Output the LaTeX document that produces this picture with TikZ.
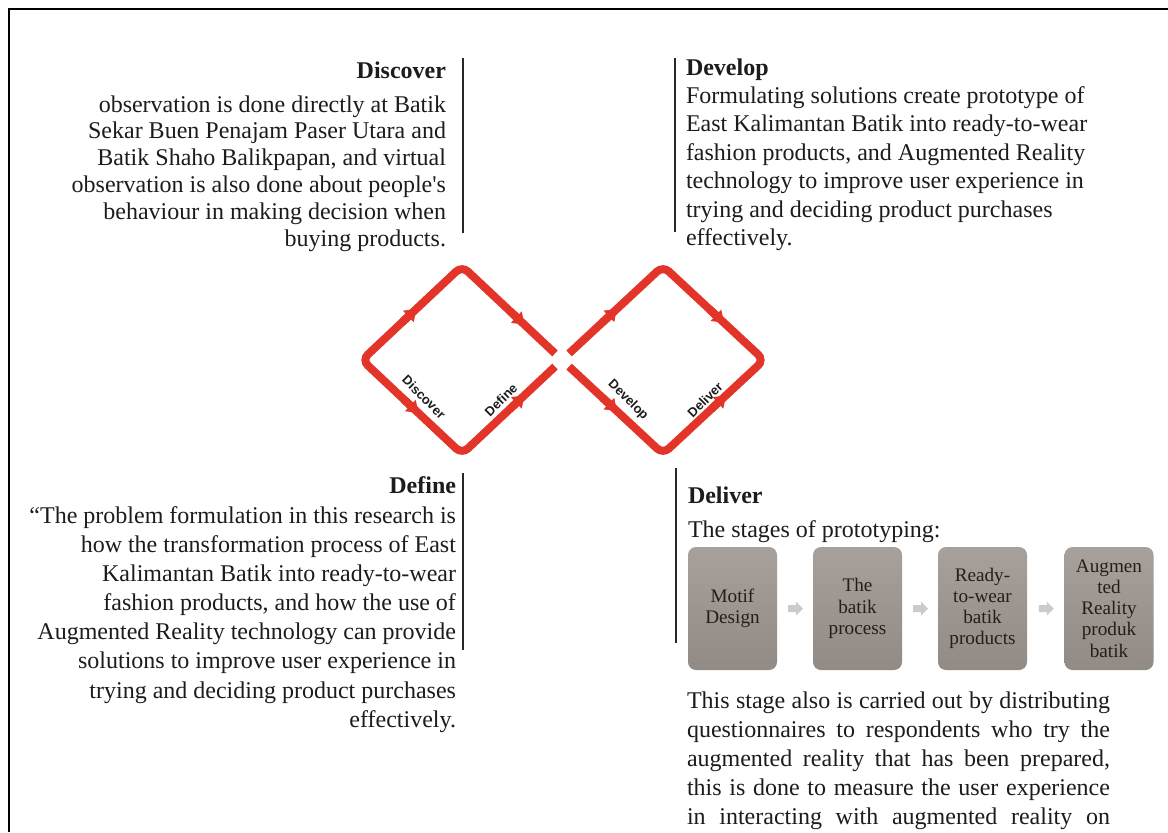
\documentclass[tikz,border=0pt]{standalone}
\usepackage{fontspec}
\setmainfont{Liberation Serif}
\newfontfamily\diamondfont{Liberation Sans}
\usetikzlibrary{arrows.meta,calc}
\definecolor{ddred}{RGB}{226,52,40}
\definecolor{ink}{RGB}{28,28,28}
\definecolor{boxtop}{RGB}{168,160,154}
\definecolor{boxbot}{RGB}{146,138,132}
\definecolor{chevgray}{RGB}{206,202,199}
\definecolor{boxink}{RGB}{36,30,26}
\definecolor{barcol}{RGB}{40,40,40}

\begin{document}
\begin{tikzpicture}[x=0.5pt,y=-0.5pt,
  every node/.style={inner sep=0pt,outer sep=0pt,text=ink},
  heading/.style={font=\fontsize{12}{14}\selectfont\bfseries},
  body/.style={font=\fontsize{12}{#1}\selectfont},
  sidebar/.style={draw=barcol,line width=1pt},
  loop/.style={draw=ddred,line width=4pt,rounded corners=4pt,line cap=butt},
  flowtip/.style={draw=ddred,line width=4pt,-{Triangle[width=7.5pt,length=5.5pt]},shorten >=-3pt},
  phase/.style={font=\diamondfont\bfseries\fontsize{6.5}{7}\selectfont,text=ink},
  stagebox/.style={rounded corners=4pt,minimum width=44.5pt,minimum height=61.5pt,
    top color=boxtop,bottom color=boxbot,align=center,text=boxink,
    font=\fontsize{9.6}{10.6}\selectfont},
  chev/.style={fill=chevgray}
]
\useasboundingbox (0,0) rectangle (1168,832);
\fill[white] (0,0) rectangle (1168,832);

% outer frame (continues past the right and bottom edges)
\draw[black,line width=1.3pt] (9,832) -- (9,9) -- (1168,9);

% ---------------- double diamond ----------------
\coordinate (aL) at (362,360);
\coordinate (aT) at (462,266);
\coordinate (aR) at (562,360);
\coordinate (aB) at (462,454);
\coordinate (bL) at (562,360);
\coordinate (bT) at (663,266);
\coordinate (bR) at (764,360);
\coordinate (bB) at (663,454);

\draw[loop] ($(aT)!0.93!(aR)$) -- (aT) -- (aL) -- (aB) -- ($(aB)!0.93!(aR)$);
\draw[loop] ($(bL)!0.07!(bT)$) -- (bT) -- (bR) -- (bB) -- ($(bL)!0.07!(bB)$);

% direction tips on every edge
\draw[flowtip] ($(aL)!0.40!(aT)$) -- ($(aL)!0.50!(aT)$);
\draw[flowtip] ($(aT)!0.48!(aR)$) -- ($(aT)!0.58!(aR)$);
\draw[flowtip] ($(aL)!0.42!(aB)$) -- ($(aL)!0.52!(aB)$);
\draw[flowtip] ($(aB)!0.48!(aR)$) -- ($(aB)!0.58!(aR)$);
\draw[flowtip] ($(bL)!0.40!(bT)$) -- ($(bL)!0.50!(bT)$);
\draw[flowtip] ($(bT)!0.46!(bR)$) -- ($(bT)!0.56!(bR)$);
\draw[flowtip] ($(bL)!0.40!(bB)$) -- ($(bL)!0.50!(bB)$);
\draw[flowtip] ($(bB)!0.48!(bR)$) -- ($(bB)!0.58!(bR)$);

\node[phase,rotate=-45] (pDiscover) at (424,397) {Discover};
\node[phase,rotate=45]  (pDefine)   at (501,400) {Define};
\node[phase,rotate=-45] (pDevelop)  at (628,400) {Develop};
\node[phase,rotate=45]  (pDeliver)  at (705,400) {Deliver};

% ---------------- Discover ----------------
\draw[sidebar] (463,58) -- (463,233);
\node[heading,anchor=base east] (discH) at (446,78) {Discover};
\node[body=13.4,align=right,anchor=north east] (discT) at (446,95.5)
 {observation is done directly at Batik\\
  Sekar Buen Penajam Paser Utara and\\
  Batik Shaho Balikpapan, and virtual\\
  observation is also done about people\textquotesingle s\\
  behaviour in making decision when\\
  buying products.};

% ---------------- Develop ----------------
\draw[sidebar] (675,58) -- (675,232);
\node[heading,anchor=base west] (devH) at (686,75) {Develop};
\node[body=14.2,align=left,anchor=north west] (devT) at (686,86.5)
 {Formulating solutions create prototype of\\
  East Kalimantan Batik into ready-to-wear\\
  fashion products, and Augmented Reality\\
  technology to improve user experience in\\
  trying and deciding product purchases\\
  effectively.};

% ---------------- Define ----------------
\draw[sidebar] (463,473) -- (463,650);
\node[heading,anchor=base east] (defH) at (456,493) {Define};
\node[body=14.55,align=right,anchor=north east] (defT) at (456,506.5)
 {“The problem formulation in this research is\\
  how the transformation process of East\\
  Kalimantan Batik into ready-to-wear\\
  fashion products, and how the use of\\
  Augmented Reality technology can provide\\
  solutions to improve user experience in\\
  trying and deciding product purchases\\
  effectively.};

% ---------------- Deliver ----------------
\draw[sidebar] (676,468) -- (676,643);
\node[heading,anchor=base west] (delH) at (688,503) {Deliver};
\node[body=14,anchor=base west] (delS) at (688,537) {The stages of prototyping:};

\node[stagebox] (s1) at (732.5,608.5) {Motif\\Design};
\node[stagebox] (s2) at (857.5,608.5) {The\\batik\\process};
\node[stagebox] (s3) at (982.5,608.5) {Ready-\\to-wear\\batik\\products};
\node[stagebox] (s4) at (1109,608.5) {Augmen\\ted\\Reality\\produk\\batik};

% block chevrons between the stages
\coordinate (c1) at ($(s1.east)!0.5!(s2.west)$);
\coordinate (c2) at ($(s2.east)!0.5!(s3.west)$);
\coordinate (c3) at ($(s3.east)!0.5!(s4.west)$);
\foreach \c in {c1,c2,c3}{
  \fill[chev] ($(\c)+(-7,-3.5)$) -- ($(\c)+(1,-3.5)$) -- ($(\c)+(1,-7)$)
    -- ($(\c)+(8,0)$) -- ($(\c)+(1,7)$) -- ($(\c)+(1,3.5)$)
    -- ($(\c)+(-7,3.5)$) -- cycle;
}

\node[body=14.5,align=left,anchor=north west] (delT) at (687,691.5)
 {\hbox to 211.5pt{This stage also is carried out by distributing}\\
  \hbox to 211.5pt{questionnaires to respondents who try the}\\
  \hbox to 211.5pt{augmented reality that has been prepared,}\\
  \hbox to 211.5pt{this is done to measure the user experience}\\
  \hbox to 211.5pt{in interacting with augmented reality on}};

\end{tikzpicture}
\end{document}
